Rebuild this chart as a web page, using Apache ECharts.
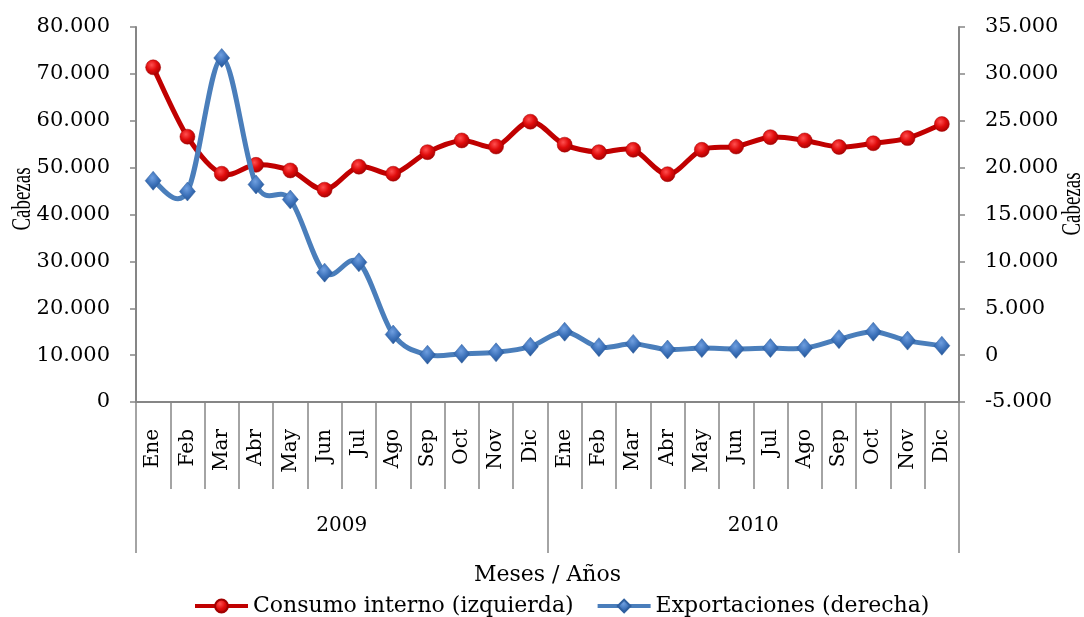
<!DOCTYPE html>
<html>
<head>
<meta charset="utf-8">
<script src="https://cdn.jsdelivr.net/npm/echarts@6/dist/echarts.min.js"></script>
<style>
html,body{margin:0;padding:0;background:#fff;}
#chart{width:1084px;height:617px;}
</style>
</head>
<body>
<div id="chart"></div>
<script>
const months = ['Ene','Feb','Mar','Abr','May','Jun','Jul','Ago','Sep','Oct','Nov','Dic',
                'Ene','Feb','Mar','Abr','May','Jun','Jul','Ago','Sep','Oct','Nov','Dic'];
const years = ['2009','2010'];
const consumoInterno = [71400,56600,48700,50600,49400,45300,50200,48700,53300,55800,54500,59800,
                        54900,53300,53800,48600,53800,54500,56500,55800,54400,55200,56300,59300];
const exportaciones = [18600,17450,31700,18200,16600,8800,9900,2200,50,150,300,900,
                       2500,850,1200,600,750,650,750,750,1700,2500,1550,1000];
const leftTicks = {min:0, max:80000, interval:10000};
const rightTicks = {min:-5000, max:35000, interval:5000};
const axisTitle = 'Cabezas';

const FONT = 'DejaVu Serif';
const GRAY = '#868686';
const RED = '#c00000';
const BLUE = '#4a7ebb';
function fmt(v){
  const s = Math.abs(v).toString().replace(/\B(?=(\d{3})+(?!\d))/g,'.');
  return (v<0?'-':'') + s;
}
// Catmull-Rom style smoothed path (like spreadsheet "smoothed line"), via the axes' coord()
function smoothCurve(values, color){
  return function(params, api){
    if (params.dataIndex !== 0) return null;
    const pts = values.map((v,i)=>api.coord([i,v]));
    const n = pts.length;
    let d = 'M' + pts[0][0] + ' ' + pts[0][1];
    for (let i=0;i<n-1;i++){
      const p0 = pts[Math.max(i-1,0)], p1 = pts[i], p2 = pts[i+1], p3 = pts[Math.min(i+2,n-1)];
      const c1x = p1[0] + (p2[0]-p0[0])/6, c1y = p1[1] + (p2[1]-p0[1])/6;
      const c2x = p2[0] - (p3[0]-p1[0])/6, c2y = p2[1] - (p3[1]-p1[1])/6;
      d += ' C' + c1x + ' ' + c1y + ' ' + c2x + ' ' + c2y + ' ' + p2[0] + ' ' + p2[1];
    }
    return {type:'path', shape:{pathData:d},
            style:{fill:null, stroke:color, lineWidth:5, lineJoin:'round', lineCap:'round'}};
  };
}
const chart = echarts.init(document.getElementById('chart'), null, {renderer:'canvas'});
const redMarker = new echarts.graphic.RadialGradient(0.4,0.35,0.7,[
  {offset:0,color:'#ff5050'},{offset:0.5,color:'#e00c0c'},{offset:1,color:'#a00000'}]);
const blueMarker = new echarts.graphic.RadialGradient(0.45,0.35,0.7,[
  {offset:0,color:'#6f9fe0'},{offset:0.5,color:'#3d72ba'},{offset:1,color:'#1f4f8f'}]);
const NAME1 = 'Consumo interno (izquierda)', NAME2 = 'Exportaciones (derecha)';
chart.setOption({
  animation:false,
  textStyle:{fontFamily:FONT},
  grid:{left:136,right:125,top:27,bottom:215,containLabel:false,outerBoundsMode:'none'},
  graphic:[
    {type:'text', x:23, y:199, rotation:Math.PI/2, scaleX:0.7, silent:true,
     style:{text:axisTitle, font:'27px "Liberation Serif"', fill:'#000', align:'center', verticalAlign:'middle'}},
    {type:'text', x:1073, y:204, rotation:Math.PI/2, scaleX:0.7, silent:true,
     style:{text:axisTitle, font:'27px "Liberation Serif"', fill:'#000', align:'center', verticalAlign:'middle'}}
  ],
  xAxis:[{
    type:'category', data:months, position:'bottom', boundaryGap:true,
    axisLine:{show:true,onZero:false,lineStyle:{color:GRAY,width:2}},
    axisTick:{show:true,interval:0,length:87,lineStyle:{color:GRAY,width:1.5}},
    axisLabel:{interval:0,rotate:90,margin:27,fontSize:20,color:'#000',fontFamily:FONT}
  },{
    type:'category', data:years, position:'bottom', boundaryGap:true,
    axisLine:{show:false,onZero:false},
    axisTick:{show:true,interval:0,length:151,lineStyle:{color:GRAY,width:1.5}},
    axisLabel:{interval:0,margin:114,fontSize:20,color:'#000',fontFamily:FONT},
    name:'Meses / Años', nameLocation:'middle', nameGap:162,
    nameTextStyle:{fontSize:22,color:'#000',fontFamily:FONT}
  }],
  yAxis:[{
    type:'value', position:'left', min:leftTicks.min, max:leftTicks.max, interval:leftTicks.interval,
    splitLine:{show:false},
    axisLine:{show:true,lineStyle:{color:GRAY,width:2}},
    axisTick:{show:true,length:6,lineStyle:{color:GRAY,width:1.5}},
    axisLabel:{formatter:fmt,fontSize:21,color:'#000',margin:26,fontFamily:FONT}
  },{
    type:'value', position:'right', min:rightTicks.min, max:rightTicks.max, interval:rightTicks.interval,
    splitLine:{show:false},
    axisLine:{show:true,lineStyle:{color:GRAY,width:2}},
    axisTick:{show:true,length:6,lineStyle:{color:GRAY,width:1.5}},
    axisLabel:{formatter:fmt,fontSize:21,color:'#000',margin:26,fontFamily:FONT}
  }],
  legend:{
    top:590, left:188, itemWidth:53, itemHeight:16, itemGap:22,
    textStyle:{fontSize:22,color:'#000',fontFamily:FONT},
    data:[
      {name:NAME1, lineStyle:{color:RED,width:4,opacity:1}},
      {name:NAME2, lineStyle:{color:BLUE,width:4,opacity:1}}
    ]
  },
  series:[{
    name:NAME1+' curve', type:'custom', xAxisIndex:0, yAxisIndex:0, z:2,
    data:consumoInterno.map((v,i)=>[i,v]), encode:{x:0,y:1},
    renderItem:smoothCurve(consumoInterno, RED), silent:true
  },{
    name:NAME1, type:'line', xAxisIndex:0, yAxisIndex:0, z:3,
    data:consumoInterno,
    symbol:'circle', symbolSize:15,
    lineStyle:{color:RED,width:4,opacity:0},
    itemStyle:{color:redMarker,borderColor:'#a00000',borderWidth:0.5}
  },{
    name:NAME2+' curve', type:'custom', xAxisIndex:0, yAxisIndex:1, z:4,
    data:exportaciones.map((v,i)=>[i,v]), encode:{x:0,y:1},
    renderItem:smoothCurve(exportaciones, BLUE), silent:true
  },{
    name:NAME2, type:'line', xAxisIndex:0, yAxisIndex:1, z:5,
    data:exportaciones,
    symbol:'diamond', symbolSize:[16,19],
    lineStyle:{color:BLUE,width:4,opacity:0},
    itemStyle:{color:blueMarker,borderColor:'#2f5f9f',borderWidth:0.5}
  }]
});
</script>
</body>
</html>
